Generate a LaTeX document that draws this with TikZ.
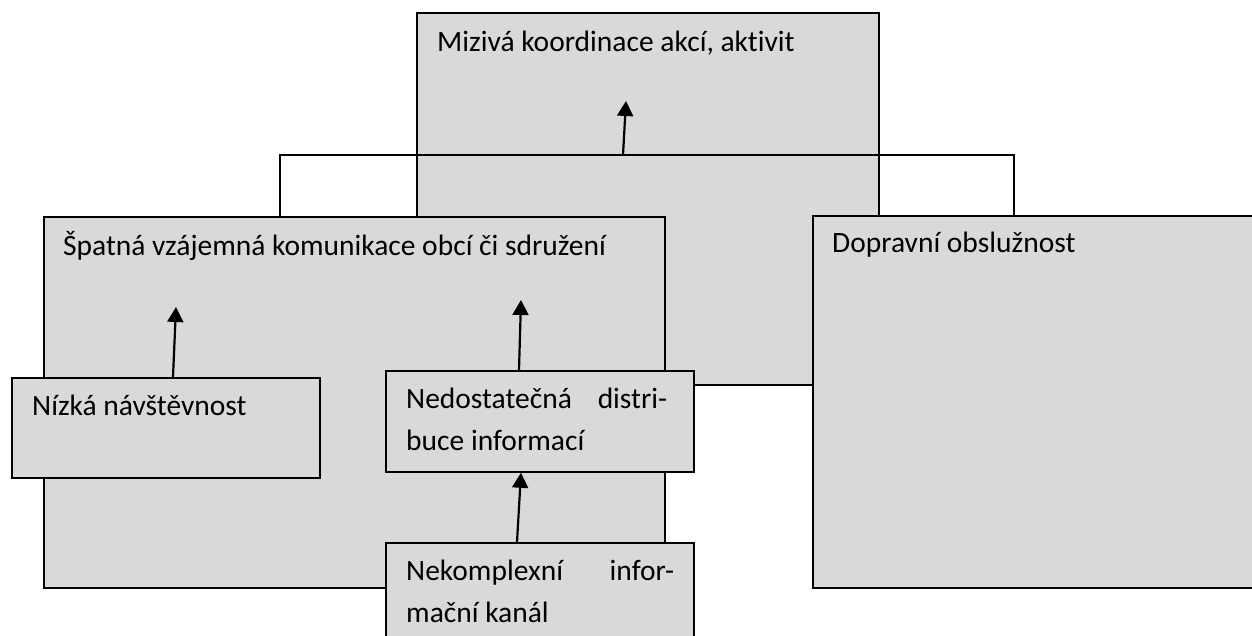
\documentclass[tikz,border=0pt]{standalone}
\usepackage{fontspec}
\setmainfont{Carlito}[Ligatures=NoCommon]
\usetikzlibrary{arrows.meta}
\definecolor{boxgray}{RGB}{217,217,217}
\begin{document}
\begin{tikzpicture}[x=1pt,y=-1pt,
  box/.style={draw=black, fill=boxgray, line width=1.8pt, rectangle, inner sep=0pt, anchor=north west},
  lbl/.style={anchor=base west, inner sep=0pt, font=\fontsize{29.5}{42}\selectfont},
  conn/.style={draw=black, line width=1.8pt},
  arr/.style={draw=black, line width=2.2pt, -{Triangle[length=15pt,width=16pt]}}]
\useasboundingbox (0,0) rectangle (1252,636);
\clip (0,0) rectangle (1252,636);
% boxes
\node[box, minimum width=462pt, minimum height=372pt] (mz) at (416,12) {};
\node[box, minimum width=621pt, minimum height=371pt] (spat) at (43,216) {};
\node[box, minimum width=500pt, minimum height=372pt] (dop) at (812,215) {};
\node[box, minimum width=308pt, minimum height=100pt] (niz) at (11,377) {};
\node[box, minimum width=308pt, minimum height=101pt] (ned) at (385,370) {};
\node[box, minimum width=308pt, minimum height=120pt] (nek) at (385,542) {};
% elbow connector
\coordinate (jl) at ([xshift=237pt]spat.north west);
\coordinate (jr) at ([xshift=202pt]dop.north west);
\coordinate (bus) at (623,155);
\draw[conn] (jl) |- (bus) -| (jr);
% arrows
\draw[arr] (bus) -- ++(3,-54);
\draw[arr] ([xshift=162pt]niz.north west) -- ++(3,-70);
\draw[arr] ([xshift=134pt]ned.north west) -- ++(2,-70);
\draw[arr] ([xshift=132pt]nek.north west) -- ([xshift=136pt]ned.south west);
% labels
\node[lbl] (mzt) at (437,52) {Mizivá koordinace akcí, aktivit};
\node[lbl] (spatt) at (63,255) {Špatná vzájemná komunikace obcí či sdružení};
\node[lbl] (dopt) at (832,253) {Dopravní obslužnost};
\node[lbl] (nizt) at (32,415) {Nízká návštěvnost};
\node[lbl] (nedt) at (406,408) {\vtop{\hbox to 261pt{Nedostatečná\hfill distri-}\hbox{buce informací}}};
\node[lbl] (nekt) at (406,580) {\vtop{\hbox to 268pt{Nekomplexní\hfill infor-}\hbox{mační kanál}}};
\end{tikzpicture}
\end{document}
